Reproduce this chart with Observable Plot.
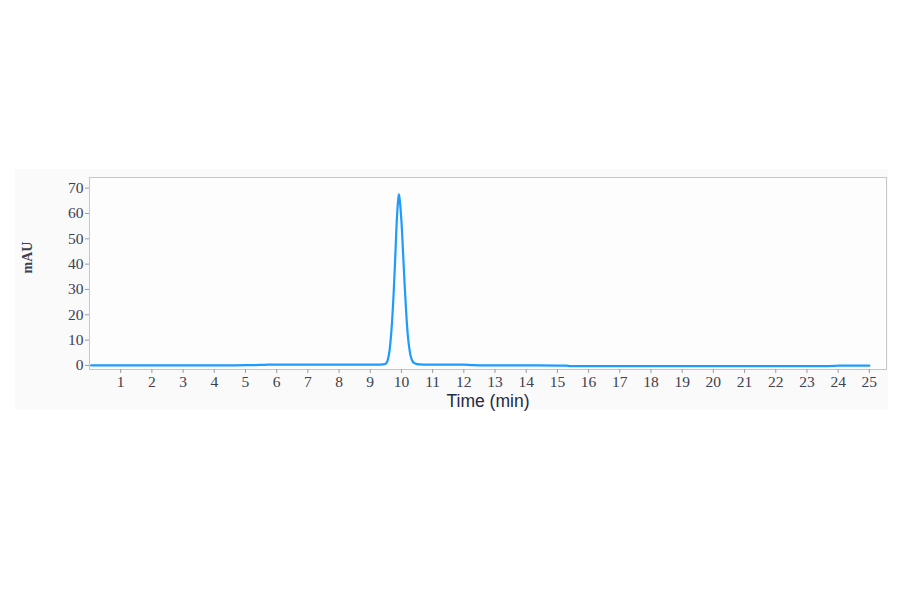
<!DOCTYPE html>
<html>
<head>
<meta charset="utf-8">
<script src="https://cdn.jsdelivr.net/npm/d3@7"></script>
<script src="https://cdn.jsdelivr.net/npm/@observablehq/plot@0.6"></script>
<style>
  html, body { margin: 0; padding: 0; background: #ffffff; }
  #wrap { position: relative; width: 900px; height: 594px; }
  #panel { position: absolute; left: 15px; top: 169px; width: 873px; height: 241px; background: #fafafa; }
  #chart { position: absolute; left: 0; top: 0; }
</style>
</head>
<body>
<div id="wrap">
  <div id="panel"></div>
  <div id="chart"></div>
</div>
<script>
// Retention time (min)
const time = [0.05, 1, 2, 3, 4, 4.5, 5, 5.5, 5.7, 6, 7, 8, 9, 9.3, 9.4, 9.5, 9.55, 9.6, 9.65, 9.7, 9.75, 9.8, 9.85, 9.9, 9.92, 9.95, 10.0, 10.05, 10.1, 10.15, 10.2, 10.25, 10.3, 10.35, 10.4, 10.5, 10.6, 10.8, 11, 11.5, 12, 12.3, 13, 14, 15, 15.3, 15.4, 16, 17, 18, 19, 20, 21, 22, 23, 23.5, 23.9, 24, 24.5, 25];
// Absorbance (mAU)
const absorbance = [0, 0, 0, 0, 0, 0.05, 0.1, 0.2, 0.3, 0.3, 0.3, 0.3, 0.3, 0.35, 0.4, 0.7, 1.7, 4.3, 9.5, 17.5, 28.5, 42, 57, 66, 67.5, 65, 57, 45, 32.5, 21.5, 12.5, 7, 3.5, 1.8, 1.0, 0.5, 0.4, 0.35, 0.3, 0.3, 0.3, 0.1, 0, 0, -0.05, -0.1, -0.25, -0.25, -0.25, -0.25, -0.25, -0.25, -0.25, -0.25, -0.25, -0.25, -0.15, -0.1, -0.1, -0.1];
const xTicks = [1, 2, 3, 4, 5, 6, 7, 8, 9, 10, 11, 12, 13, 14, 15, 16, 17, 18, 19, 20, 21, 22, 23, 24, 25];
const yTicks = [0, 10, 20, 30, 40, 50, 60, 70];
const xTitle = "Time (min)";
const yTitle = "mAU";

const data = time.map((t, i) => ({t, v: absorbance[i]}));

const chart = Plot.plot({
  width: 900,
  height: 594,
  marginLeft: 89,
  marginRight: 14,
  marginTop: 177,
  marginBottom: 225,
  style: {background: "transparent", fontFamily: "'Liberation Serif', serif", fontSize: "15px", color: "#3c4150"},
  x: {domain: [0, 25.55], ticks: xTicks, tickFormat: d => d, tickSize: 4, tickPadding: 2, label: null},
  y: {domain: [-1.6, 74.2], ticks: yTicks, tickFormat: d => d, tickSize: 4, tickPadding: 2, label: null},
  marks: [
    Plot.frame({fill: "#fdfdfd", stroke: "#c4c6ca"}),
    Plot.axisX({ticks: xTicks, tickSize: 4, tickPadding: 2, stroke: "#9a9ca0", fill: "#3c4150", fontSize: 15.5}),
    Plot.axisY({ticks: yTicks, tickSize: 4, tickPadding: 2, stroke: "#9a9ca0", fill: "#3c4150", fontSize: 15.5}),
    Plot.line(data, {x: "t", y: "v", stroke: "#1e9bff", strokeWidth: 2.2, curve: "catmull-rom"}),
    Plot.text([xTitle], {frameAnchor: "bottom", dy: 37, fontFamily: "'Liberation Sans', Arial, sans-serif", fontSize: 17.5, fill: "#1f2a44"}),
    Plot.text([yTitle], {frameAnchor: "left", dx: -62, dy: 0, rotate: -90, fontFamily: "'Liberation Serif', serif", fontWeight: "bold", fontSize: 14, fill: "#3c4150"})
  ]
});
document.getElementById("chart").appendChild(chart);
</script>
</body>
</html>
